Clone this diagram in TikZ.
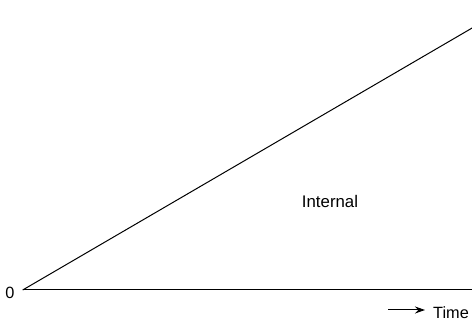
\documentclass[tikz,border=0pt]{standalone}
\usepackage{fontspec}
\setmainfont{Liberation Sans}
\usetikzlibrary{arrows.meta}
\begin{document}
\begin{tikzpicture}[x=1pt,y=1pt,
  axisline/.style={line width=1pt,black},
  bigtext/.style={font=\fontsize{16.8}{18}\selectfont,inner sep=0pt},
  smalltext/.style={font=\fontsize{16.3}{17}\selectfont,inner sep=0pt}]
\useasboundingbox (0,0) rectangle (472,323);
\coordinate (O) at (22.7,33);
\coordinate (E) at (473,33);
\coordinate (D) at (473,295.5);
\draw[axisline] (O) -- (E);
\draw[axisline] (O) -- (D);
\node[smalltext,anchor=base] (zero) at (9.8,24.7) {0};
\node[bigtext,anchor=base] (internal) at (330,115.3) {Internal};
\coordinate (A1) at (388,13);
\coordinate (A2) at (425,13);
\draw[line width=1pt,-{Stealth[length=10pt,width=7pt]}] (A1) -- (A2);
\node[smalltext,anchor=base west] (time) at (433,4.7) {Time};
\end{tikzpicture}
\end{document}
